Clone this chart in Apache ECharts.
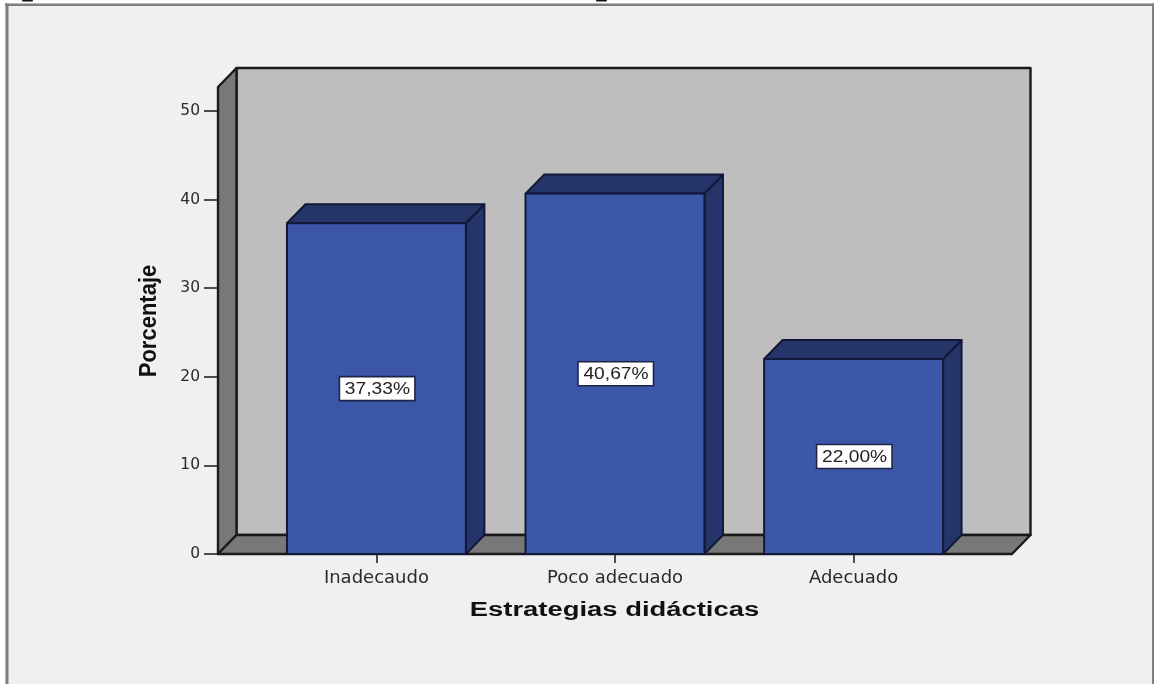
<!DOCTYPE html>
<html>
<head>
<meta charset="utf-8">
<style>html,body{margin:0;padding:0;background:#fff}#c{width:1154px;height:684px}</style>
<script src="https://cdn.jsdelivr.net/npm/echarts@6/dist/echarts.min.js"></script>
</head>
<body>
<div id="c"></div>
<script>
const categories = ['Inadecaudo', 'Poco adecuado', 'Adecuado'];
const percentages = [37.33, 40.67, 22.00];
const valueTicks = [0, 10, 20, 30, 40, 50];
const categoryTicks = [0, 1, 2];
const xAxisTitle = 'Estrategias didácticas';
const yAxisTitle = 'Porcentaje';

const DX = 18.5, DY = -19;
const XMIN = -0.664, XMAX = 2.664, YMAX = 52.7;
const LINE = '#1a1a1a';
const barLine = '#12183a';

const chart = echarts.init(document.getElementById('c'), null, {renderer: 'canvas'});

function poly(points, fill, stroke, lw) {
  return {type: 'polygon', shape: {points}, style: {fill, stroke, lineWidth: lw, lineJoin: 'round'}};
}

function renderWalls(params, api) {
  const a = api.coord([XMIN, 0]), b = api.coord([XMAX, 0]), t = api.coord([XMIN, YMAX]);
  const sh = (p) => [p[0] + DX, p[1] + DY];
  const tb = [b[0], t[1]];
  return {type: 'group', silent: true, children: [
    poly([sh(a), sh(b), sh(tb), sh(t)], '#bebebe', LINE, 2.4),
    poly([a, sh(a), sh(t), t], '#787878', LINE, 2.4),
    poly([a, b, sh(b), sh(a)], '#787878', LINE, 2.4)
  ]};
}

function renderBar(params, api) {
  const i = api.value(0), v = api.value(1);
  const base = api.coord([i, 0]), top = api.coord([i, v]);
  const w = api.size([0.75, 0])[0];
  const l = base[0] - w / 2, r = base[0] + w / 2;
  const lw = 2;
  const value = percentages[i].toFixed(2).replace('.', ',') + '%';
  const midY = (base[1] + top[1]) / 2;
  return {type: 'group', children: [
    poly([[r, top[1]], [r + DX, top[1] + DY], [r + DX, base[1] + DY], [r, base[1]]], '#253469', barLine, lw),
    poly([[l, top[1]], [l + DX, top[1] + DY], [r + DX, top[1] + DY], [r, top[1]]], '#253469', barLine, lw),
    poly([[l, top[1]], [r, top[1]], [r, base[1]], [l, base[1]]], '#3d57a8', barLine, lw),
    {type: 'rect', shape: {x: base[0] - 37, y: midY - 12, width: 75.5, height: 24},
      style: {fill: '#fff', stroke: '#1d2547', lineWidth: 1.6}},
    {type: 'text', x: base[0] + 1, y: midY + 1, scaleX: 1.2,
      style: {text: value, fontFamily: 'Liberation Sans', fontSize: 16, fill: '#222',
        align: 'center', verticalAlign: 'middle'}}
  ]};
}

chart.setOption({
  animation: false,
  backgroundColor: '#f0f0f0',
  grid: {left: 218, right: 142, top: 87, bottom: 130},
  xAxis: {
    type: 'value', min: XMIN, max: XMAX, splitLine: {show: false},
    axisLine: {show: false, onZero: false},
    axisTick: {show: true, customValues: categoryTicks, length: 9, lineStyle: {color: '#222', width: 1.6}},
    axisLabel: {show: true, customValues: categoryTicks, margin: 15,
      formatter: (v) => categories[v], fontFamily: 'DejaVu Sans', fontSize: 18, color: '#2a2a2a'}
  },
  yAxis: {
    type: 'value', min: 0, max: YMAX, splitLine: {show: false},
    axisLine: {show: false, onZero: false},
    axisTick: {show: true, customValues: valueTicks, length: 14, lineStyle: {color: '#222', width: 1.6}},
    axisLabel: {show: true, customValues: valueTicks, margin: 18, padding: [10, 0, 0, 0],
      fontFamily: 'DejaVu Sans', fontSize: 15.5, color: '#2a2a2a'}
  },
  series: [
    {type: 'custom', coordinateSystem: 'cartesian2d', renderItem: renderWalls, data: [[0, 0]], z: 1, silent: true, clip: false},
    {type: 'custom', coordinateSystem: 'cartesian2d', renderItem: renderBar,
      data: percentages.map((v, i) => [i, v]), z: 2, silent: true, clip: false,
      encode: {x: 0, y: 1}}
  ],
  graphic: [
    {type: 'rect', silent: true, z: 0, shape: {x: 0, y: 0, width: 1154, height: 4}, style: {fill: '#fff'}},
    {type: 'rect', silent: true, z: 0, shape: {x: 0, y: 0, width: 5, height: 684}, style: {fill: '#fff'}},
    {type: 'rect', silent: true, z: 1, shape: {x: 5, y: 3.5, width: 1149, height: 2.5}, style: {fill: '#7f7f7f'}},
    {type: 'rect', silent: true, z: 1, shape: {x: 5.5, y: 3.5, width: 3, height: 681}, style: {fill: '#7f7f7f'}},
    {type: 'rect', silent: true, z: 1, shape: {x: 1152, y: 3.5, width: 2, height: 681}, style: {fill: '#7f7f7f'}},
    {type: 'rect', silent: true, z: 1, shape: {x: 22, y: 0, width: 11, height: 1.6, r: 1}, style: {fill: '#111'}},
    {type: 'rect', silent: true, z: 1, shape: {x: 596, y: 0, width: 11, height: 1.6, r: 1}, style: {fill: '#111'}},
    {type: 'text', silent: true, x: 614.5, y: 610, scaleX: 1.37,
      style: {text: xAxisTitle, fontFamily: 'Liberation Sans', fontWeight: 'bold', fontSize: 20, fill: '#111',
        align: 'center', verticalAlign: 'middle'}},
    {type: 'text', silent: true, x: 149, y: 321, rotation: Math.PI / 2, scaleY: 1.12,
      style: {text: yAxisTitle, fontFamily: 'Liberation Sans', fontWeight: 'bold', fontSize: 22, fill: '#111',
        align: 'center', verticalAlign: 'middle'}}
  ]
});
</script>
</body>
</html>
